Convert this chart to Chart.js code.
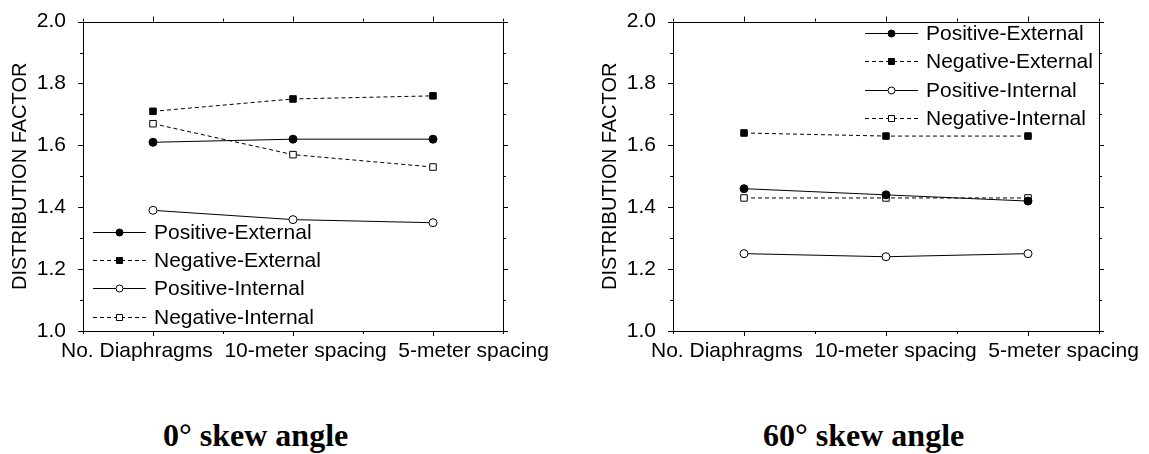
<!DOCTYPE html>
<html>
<head>
<meta charset="utf-8">
<script src="https://cdn.jsdelivr.net/npm/chart.js@4"></script>
<style>
  body { margin: 0; background: #fff; width: 1149px; height: 454px; position: relative; overflow: hidden; }
  .wrap { position: absolute; top: 0; }
  .cap { position: absolute; top: 417px; font: bold 32px "Liberation Serif", "Times New Roman", serif; color: #000; white-space: nowrap; }
</style>
</head>
<body>
<div class="wrap" style="left:0;width:580px;height:380px"><canvas id="c0"></canvas></div>
<div class="wrap" style="left:590px;width:559px;height:380px"><canvas id="c1"></canvas></div>
<div class="cap" style="left:163px">0° skew angle</div>
<div class="cap" style="left:763px">60° skew angle</div>
<script>
const categories = ["No. Diaphragms", "10-meter spacing", "5-meter spacing"];
const seriesNames = ["Positive-External", "Negative-External", "Positive-Internal", "Negative-Internal"];
const yTicks = [1.0, 1.2, 1.4, 1.6, 1.8, 2.0];

// 0 degree skew
const posExt0 = [1.61, 1.62, 1.62];
const negExt0 = [1.71, 1.75, 1.76];
const posInt0 = [1.39, 1.36, 1.35];
const negInt0 = [1.67, 1.57, 1.53];

// 60 degree skew
const posExt60 = [1.46, 1.44, 1.42];
const negExt60 = [1.64, 1.63, 1.63];
const posInt60 = [1.25, 1.24, 1.25];
const negInt60 = [1.43, 1.43, 1.43];

const FONT = "'Liberation Sans', Arial, sans-serif";
const styles = [
  { pointStyle: "circle", fill: "#000", dash: [], r: 4 },
  { pointStyle: "rect", fill: "#000", dash: [4, 3], r: 4.6 },
  { pointStyle: "circle", fill: "#fff", dash: [], r: 4 },
  { pointStyle: "rect", fill: "#fff", dash: [4, 3], r: 4.6 },
];

function makeDatasets(list) {
  return list.map((vals, i) => ({
    label: seriesNames[i],
    data: vals.map((v, j) => ({ x: j, y: v })),
    borderColor: "#000",
    borderWidth: 1,
    borderDash: styles[i].dash,
    pointStyle: styles[i].pointStyle,
    pointRadius: styles[i].r,
    pointBackgroundColor: styles[i].fill,
    pointBorderColor: "#000",
    pointBorderWidth: 1,
    tension: 0,
  }));
}

// box, ticks on all four sides, x label line and legend with line + marker
const framePlugin = {
  id: "frame",
  afterDraw(chart, args, opts) {
    const ctx = chart.ctx;
    const a = chart.chartArea;
    const xs = chart.scales.x, ys = chart.scales.y;
    ctx.save();
    ctx.strokeStyle = "#000";
    ctx.lineWidth = 1;
    ctx.setLineDash([]);
    ctx.strokeRect(Math.round(a.left) + 0.5, Math.round(a.top) + 0.5, Math.round(a.right - a.left), Math.round(a.bottom - a.top));
    ctx.beginPath();
    for (let k = 0; k <= 10; k++) {
      const y = Math.round(ys.getPixelForValue(1 + k / 10)) + 0.5;
      const len = k % 2 === 0 ? 5 : 3;
      ctx.moveTo(a.left - len, y); ctx.lineTo(a.left, y);
      ctx.moveTo(a.right, y); ctx.lineTo(a.right + len, y);
    }
    for (let k = -1; k <= 5; k++) {
      const x = Math.round(xs.getPixelForValue(k / 2)) + 0.5;
      const len = k % 2 === 0 ? 5 : 3;
      ctx.moveTo(x, a.bottom); ctx.lineTo(x, a.bottom + len);
      ctx.moveTo(x, a.top - len); ctx.lineTo(x, a.top);
    }
    ctx.stroke();

    ctx.fillStyle = "#000";
    ctx.font = "21px " + FONT;
    // category labels typed as one line under the axis
    ctx.textBaseline = "top";
    ctx.textAlign = "left";
    ctx.fillText(categories.join("  "), a.left - 22, a.bottom + 10);

    // legend
    const L = opts.legend;
    ctx.textBaseline = "middle";
    chart.data.datasets.forEach((ds, i) => {
      const y = Math.round(L.y + i * L.gap) + 0.5;
      ctx.strokeStyle = "#000";
      ctx.setLineDash(ds.borderDash);
      ctx.beginPath();
      ctx.moveTo(L.x, y); ctx.lineTo(L.x + L.len, y);
      ctx.stroke();
      ctx.setLineDash([]);
      const mx = L.x + L.len / 2;
      ctx.fillStyle = ds.pointBackgroundColor;
      ctx.beginPath();
      if (ds.pointStyle === "circle") ctx.arc(mx, y, 3.5, 0, Math.PI * 2);
      else ctx.rect(mx - 3, y - 3, 6, 6);
      ctx.fill(); ctx.stroke();
      ctx.fillStyle = "#000";
      ctx.fillText(ds.label, L.x + L.len + 8, y + 1);
    });
    ctx.restore();
  }
};

function makeChart(id, list, pad, legend) {
  return new Chart(document.getElementById(id), {
    type: "line",
    data: { datasets: makeDatasets(list) },
    plugins: [framePlugin],
    options: {
      responsive: true,
      maintainAspectRatio: false,
      animation: false,
      layout: { padding: pad },
      scales: {
        x: {
          type: "linear", min: -0.5, max: 2.5,
          afterBuildTicks: (s) => { s.ticks = [0, 1, 2].map(v => ({ value: v })); },
          afterFit: (s) => { s.height = 49; },
          ticks: { display: false },
          grid: { display: false },
          border: { display: false },
        },
        y: {
          min: 1, max: 2,
          afterBuildTicks: (s) => { s.ticks = yTicks.map(v => ({ value: v })); },
          afterFit: (s) => { s.width = 75; },
          ticks: { callback: (v) => v.toFixed(1), color: "#000", font: { family: FONT, size: 21 }, padding: 9 },
          title: { display: true, text: "DISTRIBUTION FACTOR", color: "#000", font: { family: FONT, size: 20 }, padding: { top: 0, bottom: 0 } },
          grid: { display: false },
          border: { display: false },
        },
      },
      plugins: { legend: { display: false }, tooltip: { enabled: false }, frame: { legend } },
    },
  });
}

makeChart("c0", [posExt0, negExt0, posInt0, negInt0], { left: 8, right: 77, top: 20, bottom: 0 },
  { x: 93, y: 231.5, gap: 28.4, len: 53 });
makeChart("c1", [posExt60, negExt60, posInt60, negInt60], { left: 8, right: 50, top: 20, bottom: 0 },
  { x: 275, y: 33, gap: 28.4, len: 53 });
</script>
</body>
</html>
